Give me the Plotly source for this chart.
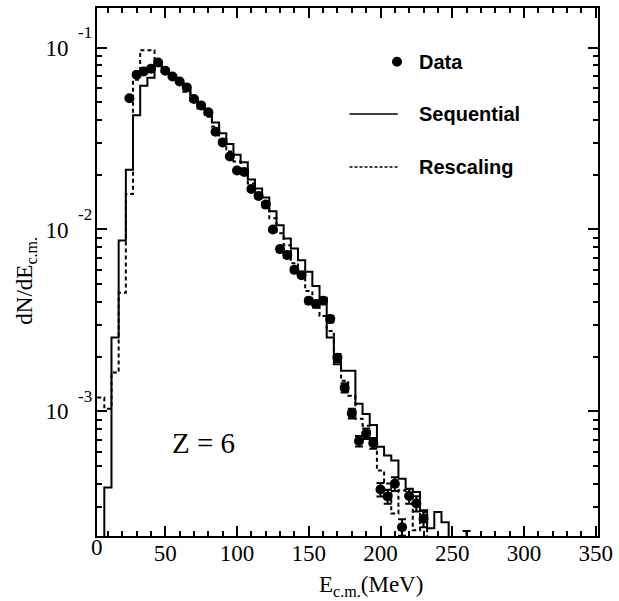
import math
import plotly.graph_objects as go

# ---------------- data ----------------
# measured points (bin centres, MeV) and dN/dE values
data_x = [25, 30, 35, 40, 45, 50, 55, 60, 65, 70, 75, 80, 85, 90, 95, 100,
          105, 110, 115, 120, 125, 130, 135, 140, 145, 150, 155, 160, 165,
          170, 175, 180, 185, 190, 195, 200, 205, 210, 215, 220, 225, 230, 260]
data_y = [0.0527, 0.0709, 0.0738, 0.0764, 0.0828, 0.0745, 0.0693, 0.0651,
          0.0604, 0.0522, 0.0481, 0.0441, 0.0345, 0.0301, 0.0252, 0.0211,
          0.0207, 0.0167, 0.0153, 0.0137, 0.0100, 0.0078, 0.00723, 0.0060,
          0.00561, 0.00406, 0.00389, 0.00406, 0.00322, 0.00197, 0.00135,
          0.000975, 0.000687, 0.000755, 0.000668, 0.000372, 0.000341,
          0.000400, 0.000231, 0.000343, 0.000312, 0.000257, 0.000185]
data_err = [0.0010, 0.0012, 0.0012, 0.0012, 0.0013, 0.0012, 0.0011, 0.0010,
            0.0010, 0.0009, 0.0009, 0.0008, 0.0007, 0.0006, 0.0005, 0.0005,
            0.0005, 0.0004, 0.0004, 0.0004, 0.0003, 0.00025, 0.00025, 0.0002,
            0.0002, 0.00016, 0.00016, 0.00016, 0.00014, 0.0001, 0.00008,
            0.00006, 0.000045, 0.00005, 0.000045, 0.000032, 0.00003,
            0.000035, 0.000024, 0.000032, 0.00003, 0.000026, 0.000035]

bin_width = 5
# "Sequential" model histogram, bin centres 5 ... 250 MeV
seq_centres = list(range(5, 255, 5))
seq_vals = [1.0e-4, 3.82e-4, 2.544e-3, 8.69e-3, 0.02129, 0.04240, 0.06168,
            0.06823, 0.07937, 0.07454, 0.0700, 0.06491, 0.05937, 0.05303,
            0.04793, 0.04332, 0.03868, 0.03379, 0.02955, 0.02572, 0.02344,
            0.01884, 0.01681, 0.01501, 0.01258, 0.01054, 0.008915, 0.007858,
            0.006777, 0.005850, 0.004884, 0.004214, 0.002544, 0.001818,
            0.001671, 0.001671, 0.001102, 0.000968, 0.000842, 0.000640,
            0.000572, 0.000537, 0.000426, 0.000376, 0.000360, 0.000286,
            0.000228, 0.000280, 0.000246, 5e-5]
# "Rescaling" model histogram, bin centres 5 ... 235 MeV
res_centres = list(range(5, 240, 5))
res_vals = [0.001193, 0.001035, 0.001636, 0.004488, 0.01565, 0.06653,
            0.09678, 0.09678, 0.08037, 0.07360, 0.06823, 0.06323, 0.05717,
            0.05103, 0.04613, 0.04172, 0.03677, 0.03119, 0.02683, 0.02364,
            0.02137, 0.01791, 0.01579, 0.01391, 0.01152, 0.009532, 0.008190,
            0.006529, 0.005754, 0.004586, 0.003940, 0.003344, 0.002768,
            0.002019, 0.001473, 0.001219, 0.000912, 0.000835, 0.000691,
            0.000473, 0.000402, 0.000275, 0.000368, 0.000345, 0.000222,
            0.000279, 5e-5]

x_ticks = [0, 50, 100, 150, 200, 250, 300, 350]
y_ticks = [1e-3, 1e-2, 1e-1]
y_tick_base = ["10", "10", "10"]
y_tick_exp = ["-3", "-2", "-1"]
legend_labels = ["Data", "Sequential", "Rescaling"]


def step_xy(centres, vals, width):
    xs = [c - width / 2 for c in centres] + [centres[-1] + width / 2]
    ys = list(vals) + [vals[-1]]
    return xs, ys


SERIF = "Liberation Serif, Times New Roman, serif"
SANS = "Liberation Sans, Arial, sans-serif"

fig = go.Figure()
sx, sy = step_xy(seq_centres, seq_vals, bin_width)
fig.add_trace(go.Scatter(x=sx, y=sy, mode="lines", line=dict(shape="hv", color="black", width=2),
                         name="Sequential", showlegend=False))
rx, ry = step_xy(res_centres, res_vals, bin_width)
fig.add_trace(go.Scatter(x=rx, y=ry, mode="lines",
                         line=dict(shape="hv", color="black", width=2, dash="4px,3px"),
                         name="Rescaling", showlegend=False))
fig.add_trace(go.Scatter(x=data_x, y=data_y, mode="markers",
                         marker=dict(size=10, color="black"),
                         error_y=dict(type="data", array=data_err, color="black", thickness=2, width=4),
                         name="Data", showlegend=False))

minor_vals = [k * 10.0 ** e for e in range(-4, 0) for k in range(2, 10)]
minor_vals = [v for v in minor_vals if 2.07e-4 <= v <= 0.165]

axis_common = dict(showline=True, linewidth=2, linecolor="black", mirror="allticks",
                   ticks="inside", ticklen=10, tickwidth=2, tickcolor="black",
                   showgrid=False, zeroline=False,
                   tickfont=dict(family=SERIF, size=23, color="black"))

fig.update_xaxes(range=[2.4, 351.6], tickmode="array", tickvals=x_ticks, ticklabelstandoff=-5,
                 minor=dict(ticks="inside", ticklen=5, tickwidth=1.5, tickcolor="black",
                            dtick=10, tick0=0, showgrid=False),
                 **axis_common)
fig.update_yaxes(type="log", range=[-3.685, -0.7825], tickmode="array",
                 tickvals=y_ticks, ticktext=y_tick_base, ticklabelstandoff=22,
                 minor=dict(ticks="inside", ticklen=5, tickwidth=1.5, tickcolor="black",
                            tickmode="array", tickvals=minor_vals, showgrid=False),
                 **axis_common)

annotations = [
    dict(text="0", x=2.4, xref="x", y=0, yref="paper", yanchor="top", xanchor="center",
         yshift=3, showarrow=False, font=dict(family=SERIF, size=23, color="black")),
    dict(text="E<sub>c.m.</sub>(MeV)", x=0.5474, xref="paper", y=-0.0943, yref="paper",
         xanchor="center", yanchor="middle", showarrow=False,
         font=dict(family=SERIF, size=23, color="black")),
    dict(text="dN/dE<sub>c.m.</sub>", x=-0.1423, xref="paper", y=0.483, yref="paper",
         xanchor="center", yanchor="middle", textangle=-90, showarrow=False,
         font=dict(family=SERIF, size=23, color="black")),
    dict(text="Z = 6", x=0.2134, xref="paper", y=0.1755, yref="paper",
         xanchor="center", yanchor="middle", showarrow=False,
         font=dict(family=SERIF, size=29, color="black")),
]
# decade exponents, raised above each "10" tick label
for tv, ex in zip(y_ticks, y_tick_exp):
    annotations.append(dict(text=ex, x=-0.0415, xref="paper", y=math.log10(tv), yref="y",
                            xanchor="left", yanchor="middle", yshift=15, showarrow=False,
                            font=dict(family=SERIF, size=17, color="black")))

leg_y = [0.8981, 0.7991, 0.6987]
for lab, yy in zip(legend_labels, leg_y):
    annotations.append(dict(text="<b>%s</b>" % lab, x=0.6383, xref="paper", y=yy, yref="paper",
                            xanchor="left", yanchor="middle", showarrow=False,
                            font=dict(family=SANS, size=20, color="black")))

shapes = [
    dict(type="circle", xref="paper", yref="paper", xsizemode="pixel", ysizemode="pixel",
         xanchor=0.5988, yanchor=leg_y[0], x0=-5, x1=5, y0=-5, y1=5,
         fillcolor="black", line=dict(color="black", width=0)),
    dict(type="line", xref="paper", yref="paper", x0=0.5040, x1=0.6002, y0=leg_y[1], y1=leg_y[1],
         line=dict(color="black", width=1.5)),
    dict(type="line", xref="paper", yref="paper", x0=0.5040, x1=0.6002, y0=leg_y[2], y1=leg_y[2],
         line=dict(color="black", width=1.5, dash="3px,2px")),
]

fig.update_layout(width=619, height=601, margin=dict(l=97, r=16, t=6, b=65),
                  paper_bgcolor="white", plot_bgcolor="white",
                  annotations=annotations, shapes=shapes, showlegend=False)

fig.write_html("out.html", config={"displayModeBar": False},
               post_script="document.body.style.margin='0px';document.body.style.padding='0px';"
                           "document.body.style.overflow='hidden';")
